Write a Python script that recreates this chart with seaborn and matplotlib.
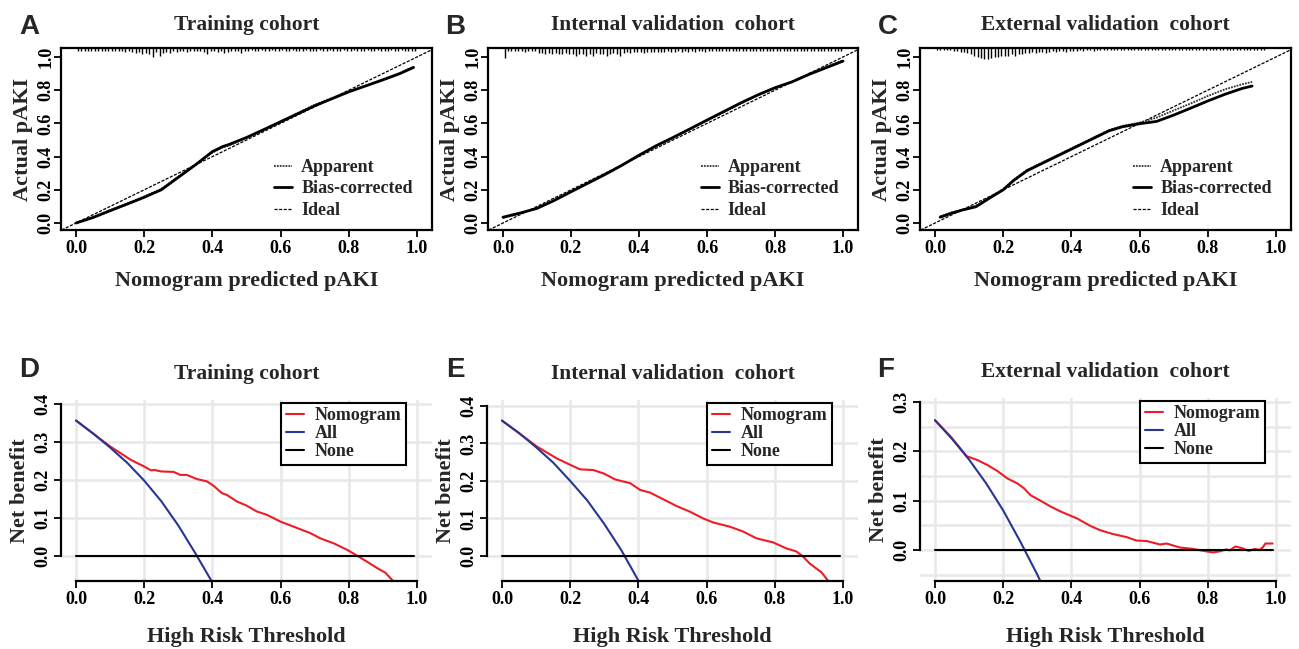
import numpy as np
import pandas as pd
import seaborn as sns
import matplotlib.pyplot as plt
from matplotlib.ticker import MultipleLocator

# ---- calibration curves (nomogram predicted vs actual pAKI) ----
cal_a_x = [0.0, 0.05, 0.1, 0.15, 0.2, 0.25, 0.3, 0.35, 0.4, 0.43, 0.45, 0.5, 0.55, 0.6, 0.65, 0.7, 0.75, 0.8, 0.85, 0.9, 0.95, 0.99]
cal_a_app = [0.0, 0.037, 0.078, 0.118, 0.16, 0.205, 0.28, 0.352, 0.424, 0.455, 0.468, 0.513, 0.562, 0.612, 0.662, 0.712, 0.752, 0.792, 0.828, 0.866, 0.904, 0.942]
cal_a_bias = [0.0, 0.033, 0.074, 0.114, 0.155, 0.2, 0.275, 0.35, 0.43, 0.46, 0.474, 0.515, 0.562, 0.61, 0.658, 0.706, 0.748, 0.79, 0.826, 0.862, 0.9, 0.937]

cal_b_x = [0.0, 0.05, 0.1, 0.15, 0.2, 0.25, 0.3, 0.35, 0.4, 0.45, 0.5, 0.55, 0.6, 0.65, 0.7, 0.75, 0.8, 0.85, 0.9, 0.95, 1.0]
cal_b_app = [0.03, 0.057, 0.09, 0.138, 0.19, 0.242, 0.294, 0.35, 0.41, 0.463, 0.513, 0.565, 0.617, 0.668, 0.72, 0.769, 0.813, 0.852, 0.9, 0.94, 0.98]
cal_b_bias = [0.035, 0.06, 0.088, 0.135, 0.188, 0.24, 0.292, 0.348, 0.408, 0.465, 0.515, 0.567, 0.62, 0.672, 0.724, 0.772, 0.815, 0.85, 0.895, 0.935, 0.975]

cal_c_x = [0.015, 0.05, 0.08, 0.12, 0.16, 0.2, 0.23, 0.27, 0.31, 0.37, 0.41, 0.47, 0.51, 0.55, 0.6, 0.65, 0.7, 0.75, 0.8, 0.85, 0.9, 0.93]
cal_c_app = [0.04, 0.065, 0.08, 0.105, 0.155, 0.205, 0.26, 0.32, 0.36, 0.42, 0.46, 0.52, 0.56, 0.585, 0.605, 0.635, 0.678, 0.72, 0.765, 0.805, 0.835, 0.85]
cal_c_bias = [0.035, 0.06, 0.078, 0.098, 0.15, 0.2, 0.255, 0.315, 0.355, 0.415, 0.455, 0.515, 0.555, 0.58, 0.598, 0.612, 0.65, 0.692, 0.735, 0.775, 0.81, 0.825]

# rug of predicted probabilities, one value per 0.01 bin (relative frequency)
rug_a = [3, 3, 3, 3, 3, 3, 3, 3, 3, 3,
         3, 3, 3, 3, 4, 3, 4, 5, 4, 6,
         5, 6, 8, 4, 7, 5, 4, 5, 3, 4,
         3, 3, 4, 3, 3, 3, 3, 4, 6, 3,
         3, 4, 3, 5, 4, 3, 3, 3, 5, 3,
         3, 2, 3, 3, 2, 3, 3, 2, 3, 3,
         2, 3, 3, 2, 3, 3, 3, 2, 3, 3,
         3, 2, 3, 3, 2, 3, 3, 3, 2, 3,
         3, 2, 3, 3, 3, 2, 3, 3, 2, 3,
         3, 3, 2, 3, 3, 2, 3, 3, 3, 3]
rug_b = [9, 3, 3, 3, 3, 3, 4, 3, 3, 3,
         5, 5, 6, 5, 6, 5, 6, 6, 5, 6,
         6, 7, 6, 6, 7, 6, 7, 5, 6, 6,
         7, 6, 5, 6, 7, 5, 4, 5, 4, 4,
         4, 5, 4, 4, 4, 4, 4, 4, 3, 4,
         4, 3, 4, 3, 4, 3, 4, 3, 3, 4,
         3, 3, 3, 3, 3, 3, 3, 3, 3, 3,
         3, 3, 3, 3, 3, 3, 3, 3, 3, 3,
         3, 3, 3, 3, 3, 3, 3, 3, 3, 3,
         3, 3, 3, 3, 3, 3, 3, 3, 3, 3]
rug_c = [2, 2, 2, 2, 2, 3, 3, 4, 4, 5,
         6, 7, 8, 9, 10, 10, 9, 8, 8, 7,
         7, 7, 6, 7, 6, 6, 5, 5, 4, 5,
         4, 4, 5, 4, 3, 4, 3, 3, 4, 3,
         3, 3, 2, 3, 2, 2, 3, 2, 2, 2,
         2, 2, 2, 2, 2, 2, 2, 2, 2, 2,
         2, 2, 2, 2, 2, 2, 2, 2, 2, 2,
         2, 2, 2, 2, 2, 2, 2, 2, 2, 2,
         2, 2, 2, 2, 2, 2, 2, 2, 2, 2,
         2, 2, 2, 2, 2, 2, 2, 0, 0, 0]

# ---- decision curves ----
dca_d_x = [0.0, 0.1, 0.16, 0.2, 0.22, 0.23, 0.25, 0.286, 0.306, 0.325, 0.355, 0.384, 0.404, 0.428, 0.443, 0.472, 0.501, 0.53, 0.56, 0.6, 0.638, 0.687, 0.717, 0.756, 0.795, 0.82, 0.853, 0.883, 0.907, 0.932]
dca_d_nom = [0.356, 0.288, 0.253, 0.235, 0.225, 0.226, 0.222, 0.221, 0.213, 0.213, 0.202, 0.196, 0.184, 0.165, 0.16, 0.143, 0.132, 0.117, 0.108, 0.09, 0.077, 0.06, 0.046, 0.033, 0.016, 0.003, -0.015, -0.032, -0.044, -0.068]
all_d_x = [0.0, 0.05, 0.1, 0.15, 0.2, 0.25, 0.3, 0.35, 0.4]
all_d = [0.356, 0.322, 0.285, 0.245, 0.198, 0.144, 0.08, 0.007, -0.07]

dca_e_x = [0.0, 0.102, 0.161, 0.2, 0.229, 0.268, 0.298, 0.332, 0.376, 0.405, 0.434, 0.473, 0.512, 0.551, 0.59, 0.62, 0.668, 0.707, 0.746, 0.795, 0.834, 0.863, 0.883, 0.902, 0.937, 0.956]
dca_e_nom = [0.361, 0.292, 0.26, 0.243, 0.231, 0.229, 0.22, 0.204, 0.194, 0.176, 0.169, 0.151, 0.133, 0.118, 0.1, 0.089, 0.078, 0.065, 0.047, 0.036, 0.02, 0.012, -0.002, -0.02, -0.044, -0.066]
all_e_x = [0.0, 0.05, 0.1, 0.15, 0.2, 0.25, 0.3, 0.35, 0.4]
all_e = [0.361, 0.328, 0.29, 0.249, 0.2, 0.148, 0.085, 0.015, -0.066]

dca_f_x = [0.0, 0.047, 0.093, 0.125, 0.154, 0.183, 0.212, 0.241, 0.261, 0.28, 0.309, 0.339, 0.368, 0.416, 0.455, 0.484, 0.523, 0.562, 0.591, 0.621, 0.66, 0.679, 0.718, 0.757, 0.796, 0.815, 0.834, 0.854, 0.864, 0.881, 0.903, 0.92, 0.937, 0.951, 0.961, 0.969, 0.99]
dca_f_nom = [0.263, 0.229, 0.19, 0.182, 0.172, 0.16, 0.145, 0.135, 0.125, 0.111, 0.1, 0.088, 0.078, 0.064, 0.049, 0.04, 0.032, 0.026, 0.019, 0.018, 0.011, 0.013, 0.005, 0.002, -0.003, -0.005, -0.003, 0.001, -0.001, 0.007, 0.003, -0.002, 0.002, 0.0, 0.005, 0.013, 0.013]
all_f_x = [0.0, 0.05, 0.1, 0.15, 0.2, 0.25, 0.3, 0.32]
all_f = [0.263, 0.225, 0.183, 0.135, 0.08, 0.017, -0.05, -0.08]

none_x = [0.0, 0.99]
none_y = [0.0, 0.0]

sns.set_theme(style="white")
plt.rcParams['font.family'] = ['Liberation Serif', 'DejaVu Serif']
plt.rcParams['font.weight'] = 'bold'
plt.rcParams['axes.labelweight'] = 'bold'
plt.rcParams['axes.titleweight'] = 'bold'

W, H = 1299, 649
fig = plt.figure(figsize=(12.99, 6.49), dpi=100)


def box(l, t, r, b):
    return [l / W, 1 - b / H, (r - l) / W, (b - t) / H]


def rot_y(ax):
    for lab in ax.get_yticklabels():
        lab.set_rotation(90)
        lab.set_va('center')
        lab.set_ha('right')


def calib(pos, x, app, bias, rug, title):
    ax = fig.add_axes(box(*pos))
    ax.set_xlim(-0.044, 1.044)
    ax.set_ylim(-0.042, 1.054)
    top = 1.054
    rx = np.arange(100) / 100 + 0.005
    rl = np.array(rug, dtype=float) * 0.0065
    keep = rl > 0
    ax.vlines(rx[keep], top - rl[keep], top, color='black', lw=1.0)
    ax.axline((0, 0), (1, 1), color='black', lw=0.9, ls=(0, (2.5, 1.2)), label='Ideal')
    sns.lineplot(x=x, y=app, ax=ax, color='#333333', lw=1.3, ls=(0, (1, 0.6)),
                 sort=False, estimator=None, label='Apparent')
    sns.lineplot(x=x, y=bias, ax=ax, color='black', lw=2.0, sort=False,
                 estimator=None, label='Bias-corrected')
    h, l = ax.get_legend_handles_labels()
    order = [l.index('Apparent'), l.index('Bias-corrected'), l.index('Ideal')]
    ax.legend([h[i] for i in order], [l[i] for i in order], loc='upper left',
              bbox_to_anchor=(0.55, 0.44), frameon=False, fontsize=13,
              handlelength=1.0, handletextpad=0.5, labelspacing=0.25, borderpad=0)
    ax.set_xticks([0, 0.2, 0.4, 0.6, 0.8, 1.0])
    ax.set_yticks([0, 0.2, 0.4, 0.6, 0.8, 1.0])
    ax.set_xticklabels(['0.0', '0.2', '0.4', '0.6', '0.8', '1.0'])
    ax.set_yticklabels(['0.0', '0.2', '0.4', '0.6', '0.8', '1.0'])
    ax.tick_params(direction='out', length=5, width=1.3, labelsize=13, pad=2,
                   bottom=True, left=True, colors='black')
    ax.tick_params(axis='y', pad=0)
    rot_y(ax)
    for s in ax.spines.values():
        s.set_color('black')
        s.set_linewidth(1.6)
    ax.set_xlabel('Nomogram predicted pAKI', fontsize=16, labelpad=10)
    ax.set_ylabel('Actual pAKI', fontsize=16, labelpad=3)
    ax.set_title(title, fontsize=15.5, pad=13)
    return ax


def dca(pos, x, nom, ax_x, all_y, ylim, yticks, grid_step, title):
    ax = fig.add_axes(box(*pos))
    ax.set_xlim(-0.044, 1.044)
    ax.set_ylim(*ylim)
    ax.set_axisbelow(True)
    ax.xaxis.set_minor_locator(MultipleLocator(0.2))
    ax.yaxis.set_minor_locator(MultipleLocator(grid_step))
    ax.grid(which='both', color='#e8e8e8', lw=1.8)
    sns.lineplot(x=x, y=nom, ax=ax, color='#ee1c25', lw=1.5, sort=False,
                 estimator=None, label='Nomogram')
    sns.lineplot(x=ax_x, y=all_y, ax=ax, color='#283593', lw=1.5, sort=False,
                 estimator=None, label='All')
    sns.lineplot(x=none_x, y=none_y, ax=ax, color='black', lw=1.5, sort=False,
                 estimator=None, label='None')
    leg = ax.legend(loc='upper right', bbox_to_anchor=(0.93, 0.985), fontsize=13,
                    handlelength=1.0, handletextpad=0.6, labelspacing=0.05,
                    borderpad=0.25, borderaxespad=0, fancybox=False,
                    framealpha=1, edgecolor='black')
    leg.get_frame().set_linewidth(1.5)
    ax.set_xticks([0, 0.2, 0.4, 0.6, 0.8, 1.0])
    ax.set_xticklabels(['0.0', '0.2', '0.4', '0.6', '0.8', '1.0'])
    ax.set_yticks(yticks)
    ax.set_yticklabels(['%.1f' % v for v in yticks])
    ax.tick_params(which='major', direction='out', length=5, width=1.3,
                   labelsize=13, pad=2, bottom=True, left=True, colors='black')
    ax.tick_params(which='minor', length=0)
    rot_y(ax)
    for k in ['top', 'right']:
        ax.spines[k].set_visible(False)
    ax.spines['left'].set_bounds(yticks[0], yticks[-1])
    ax.spines['bottom'].set_bounds(0, 1)
    for k in ['left', 'bottom']:
        ax.spines[k].set_color('black')
        ax.spines[k].set_linewidth(1.6)
    ax.set_xlabel('High Risk Threshold', fontsize=16, labelpad=14)
    ax.set_ylabel('Net benefit', fontsize=16, labelpad=3)
    ax.set_title(title, fontsize=15.5, pad=15)
    return ax


calib((61, 48, 432, 230), cal_a_x, cal_a_app, cal_a_bias, rug_a, 'Training cohort')
calib((488, 48, 858, 230), cal_b_x, cal_b_app, cal_b_bias, rug_b, 'Internal validation  cohort')
calib((920, 48, 1291, 230), cal_c_x, cal_c_app, cal_c_bias, rug_c, 'External validation  cohort')

dca((61, 400, 432, 581), dca_d_x, dca_d_nom, all_d_x, all_d, (-0.066, 0.41),
    [0.0, 0.1, 0.2, 0.3, 0.4], 0.1, 'Training cohort')
dca((487, 400, 858, 581), dca_e_x, dca_e_nom, all_e_x, all_e, (-0.067, 0.416),
    [0.0, 0.1, 0.2, 0.3, 0.4], 0.1, 'Internal validation  cohort')
dca((920, 398, 1291, 581), dca_f_x, dca_f_nom, all_f_x, all_f, (-0.063, 0.308),
    [0.0, 0.1, 0.2, 0.3], 0.05, 'External validation  cohort')

letters = [('A', 29, 27), ('B', 455, 27), ('C', 888, 27),
           ('D', 29, 370), ('E', 455, 370), ('F', 886, 370)]
for t, x, y in letters:
    fig.text(x / W, 1 - y / H, t, fontsize=20, fontweight='bold',
             family=['Liberation Sans', 'DejaVu Sans'], ha='center', va='center')

fig.savefig('out.png', dpi=100)
